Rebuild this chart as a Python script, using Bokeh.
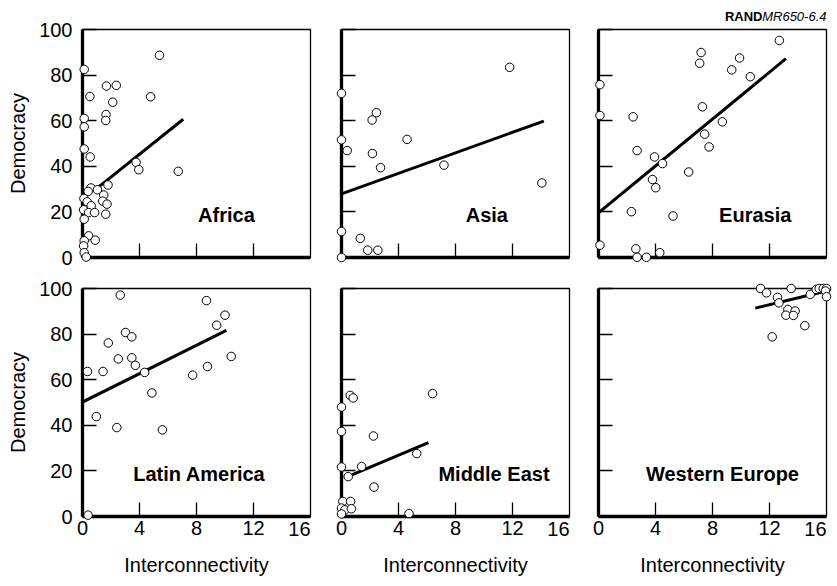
from bokeh.plotting import figure
from bokeh.layouts import gridplot
from bokeh.models import Label
from bokeh.core.properties import value
from bokeh.embed import file_html
from bokeh.resources import INLINE

# ---------------- data ----------------
regions = ["Africa", "Asia", "Eurasia", "Latin America", "Middle East", "Western Europe"]

africa_x = [0.12, 5.4, 1.68, 2.37, 0.52, 2.12, 4.78, 1.65, 1.63, 0.12, 0.12, 0.12, 0.54, 3.76, 3.95,
            6.72, 1.79, 0.59, 1.05, 0.4, 1.49, 0.1, 0.33, 1.42, 1.72, 0.61, 0.08, 0.43, 0.85, 1.63,
            0.12, 0.43, 0.89, 0.12, 0.08, 0.12, 0.26]
africa_y = [82.5, 88.7, 75.2, 75.5, 70.6, 68.1, 70.5, 62.7, 60.1, 61.0, 57.3, 47.6, 44.1, 41.7, 38.5,
            37.8, 31.8, 30.5, 29.7, 29.0, 27.4, 25.9, 24.4, 24.7, 23.4, 22.7, 20.9, 19.7, 19.7, 19.0,
            16.8, 9.5, 7.6, 7.3, 5.1, 2.1, 0.2]

asia_x = [11.8, 0.0, 2.45, 2.15, 0.0, 4.6, 0.4, 2.17, 2.74, 7.19, 14.06, 0.0, 1.32, 1.84, 2.55, 0.0]
asia_y = [83.4, 72.0, 63.5, 60.3, 51.6, 51.8, 46.9, 45.6, 39.4, 40.5, 32.7, 11.4, 8.4, 3.2, 3.2, 0.0]

eurasia_x = [12.69, 7.2, 9.9, 7.1, 9.35, 10.65, 0.1, 7.29, 0.1, 2.43, 8.69, 7.45, 7.76, 2.71, 3.93,
             4.49, 6.33, 3.79, 4.02, 2.31, 5.23, 0.1, 2.62, 2.71, 3.36, 4.3]
eurasia_y = [95.2, 89.9, 87.5, 85.2, 82.3, 79.3, 75.8, 66.1, 62.3, 61.7, 59.5, 54.1, 48.5, 46.9, 44.1,
             41.2, 37.5, 34.2, 30.6, 20.1, 18.2, 5.4, 3.8, 0.1, 0.1, 2.1]

latam_x = [2.65, 8.7, 10.0, 9.42, 3.02, 3.46, 1.81, 2.51, 3.46, 10.44, 3.71, 8.77, 0.35, 1.44, 4.36,
           7.73, 4.87, 0.97, 2.41, 5.61, 0.39]
latam_y = [97.1, 94.7, 88.3, 83.9, 80.7, 78.8, 76.1, 69.1, 69.6, 70.2, 66.3, 65.8, 63.6, 63.6, 63.2,
           62.0, 54.2, 43.8, 39.0, 38.0, 0.6]

mideast_x = [6.39, 0.61, 0.82, 0.0, 0.0, 2.24, 5.28, 0.0, 1.41, 0.47, 2.28, 0.09, 0.64, 0.0, 0.24,
             0.69, 0.0, 4.74]
mideast_y = [53.9, 53.1, 52.0, 48.0, 37.3, 35.3, 27.6, 21.7, 21.9, 17.5, 12.9, 6.6, 6.6, 3.7, 2.9,
             3.4, 1.1, 1.3]

weurope_x = [11.37, 11.79, 13.52, 12.56, 12.66, 14.86, 15.28, 15.49, 15.77, 16.0, 15.93, 16.0, 13.29,
             13.8, 13.15, 13.68, 14.48, 12.19]
weurope_y = [100.0, 98.1, 100.0, 96.1, 93.7, 97.4, 99.6, 100.0, 100.0, 100.0, 98.9, 96.4, 90.8,
             90.1, 88.3, 88.2, 83.7, 78.8]

# fitted regression lines
fit_x_start = [1.05, 0.0, 0.0, 0.0, 0.6, 11.0]
fit_x_end = [7.07, 14.2, 13.15, 10.1, 6.1, 16.0]
fit_intercept = [25.3, 27.9, 19.6, 50.2, 16.4, 74.9]
fit_slope = [5.0, 2.25, 5.14, 3.11, 2.62, 1.5]

x_ticks = [0, 4, 8, 12, 16]
y_ticks = [0, 20, 40, 60, 80, 100]
x_title = "Interconnectivity"
y_title = "Democracy"
source_bold = "RAND"
source_italic = "MR650-6.4"

all_x = [africa_x, asia_x, eurasia_x, latam_x, mideast_x, weurope_x]
all_y = [africa_y, asia_y, eurasia_y, latam_y, mideast_y, weurope_y]

# ---------------- layout / style ----------------
FONT = "Liberation Sans"
name_pos_x = [10.1, 10.2, 11.0, 8.2, 10.7, 8.7]
name_pos_y = [18.6, 18.6, 18.6, 18.8, 18.8, 18.8]
border_left = [82, 14, 14]
border_right = [17, 15, 8]
border_top = [29, 16]
border_bottom = [15, 68]


def style_axis(ax, show_labels, ticks):
    ax.ticker = ticks
    ax.axis_line_color = "black"
    ax.axis_line_width = 3.3
    ax.major_tick_in = 14
    ax.major_tick_out = 0
    ax.major_tick_line_color = "black"
    ax.major_tick_line_width = 1.3
    ax.minor_tick_line_color = None
    ax.major_label_text_font = FONT
    ax.major_label_text_color = "black"
    ax.axis_label_text_font = FONT
    ax.axis_label_text_font_size = "20px"
    ax.axis_label_text_font_style = "normal"
    ax.axis_label_text_color = "black"
    if show_labels:
        ax.major_label_text_font_size = "20px"
    else:
        ax.major_label_text_font_size = "0px"
        ax.major_label_overrides = {t: "" for t in ticks}


panels = []
for i in range(6):
    r, c = divmod(i, 3)
    p = figure(frame_width=228, frame_height=228, x_range=(0, 16), y_range=(0, 100),
               output_backend="svg", toolbar_location=None,
               min_border_left=border_left[c], min_border_right=border_right[c],
               min_border_top=border_top[r], min_border_bottom=border_bottom[r])
    p.background_fill_color = "white"
    p.border_fill_color = "white"
    p.outline_line_color = "black"
    p.outline_line_width = 1.3
    p.grid.visible = False

    xax = p.xaxis[0]
    yax = p.yaxis[0]
    style_axis(xax, r == 1, x_ticks[:-1])
    style_axis(yax, c == 0, y_ticks)
    if r == 1:
        xax.axis_label = x_title
        xax.major_label_standoff = 4
        xax.axis_label_standoff = 16
    if c == 0:
        yax.axis_label = y_title
        yax.major_label_standoff = 10
        yax.axis_label_standoff = 7

    x0, x1 = fit_x_start[i], fit_x_end[i]
    p.line([x0, x1], [fit_intercept[i] + fit_slope[i] * x0, fit_intercept[i] + fit_slope[i] * x1],
           line_color="black", line_width=3)
    p.scatter(all_x[i], all_y[i], size=8.5, fill_color="white", line_color="black",
              line_width=1, level="overlay")

    p.add_layout(Label(x=name_pos_x[i], y=name_pos_y[i], text=regions[i], text_align="center",
                       text_baseline="alphabetic", text_font=FONT, text_font_size="20px",
                       text_font_style="bold", text_color="black"))
    if r == 1:
        # last x tick label kept inside the panel edge, as in the original
        p.text(x=[x_ticks[-1]], y=[0], text=[str(x_ticks[-1])], text_align="right",
               text_baseline="top", y_offset=5, text_font=value(FONT), level="overlay",
               text_font_size="20px", text_color="black")
    if i == 2:
        p.text(x=[16], y=[100], text=[source_italic], text_align="right",
               text_baseline="alphabetic", y_offset=-13, text_font=value(FONT), level="overlay",
               text_font_size="13px", text_font_style="italic", text_color="black")
        p.text(x=[16], y=[100], text=[source_bold], text_align="right",
               text_baseline="alphabetic", y_offset=-13, x_offset=-64, text_font=value(FONT),
               level="overlay",
               text_font_size="13px", text_font_style="bold", text_color="black")
    panels.append(p)

grid = gridplot([panels[:3], panels[3:]], toolbar_location=None)

open("out.html", "w").write(file_html(grid, INLINE))
